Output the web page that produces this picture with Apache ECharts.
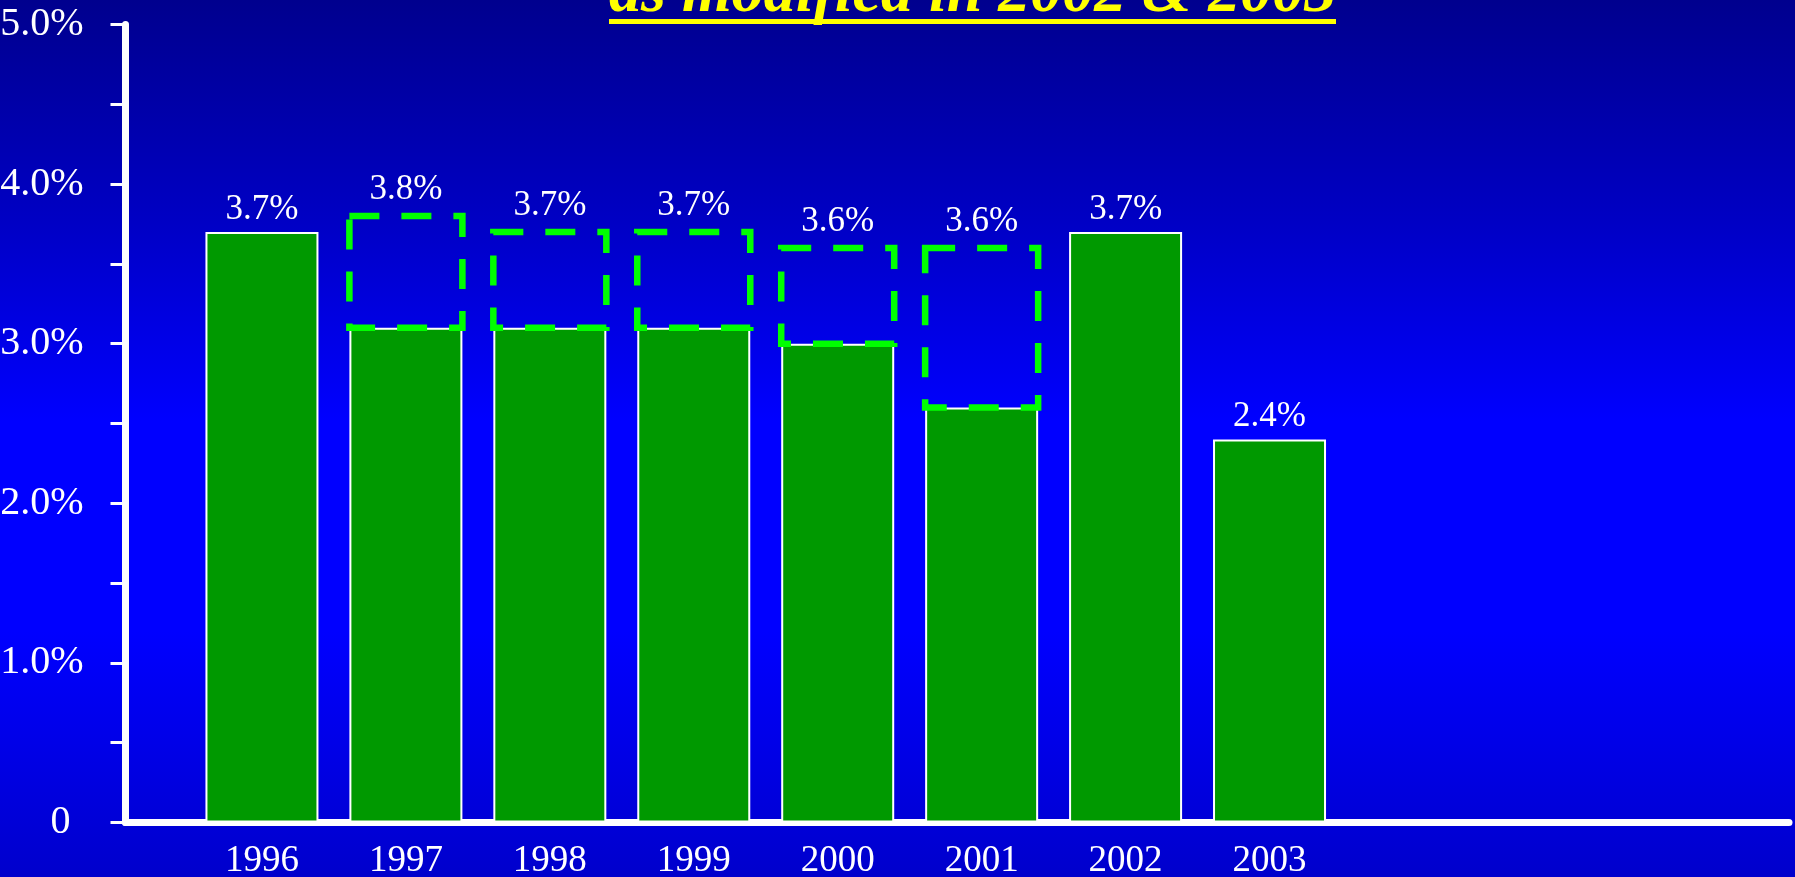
<!DOCTYPE html>
<html>
<head>
<meta charset="utf-8">
<title>Rate chart</title>
<script src="https://cdn.jsdelivr.net/npm/echarts@6/dist/echarts.min.js"></script>
<style>
  html, body { margin: 0; padding: 0; background: #0000cc; }
  #main { width: 1795px; height: 877px; }
</style>
</head>
<body>
<div id="main"></div>
<script>
// years on the x axis
var years = [1996, 1997, 1998, 1999, 2000, 2001, 2002, 2003];
// rate as modified in 2002 & 2003 (green bars)
var modified = [3.7, 3.1, 3.1, 3.1, 3.0, 2.6, 3.7, 2.4];
// rate before the modification (dashed boxes), null where nothing changed
var original = [null, 3.8, 3.7, 3.7, 3.6, 3.6, null, null];
// labelled y ticks
var yTicks = [0, 1, 2, 3, 4, 5];

var titleText = 'as modified in 2002 & 2003';
var serif = '"Liberation Serif", "Times New Roman", serif';
var BAR_W = 113;

var chartDom = document.getElementById('main');
var myChart = echarts.init(chartDom, null, { renderer: 'canvas' });

var baseData = years.map(function (y, i) { return [y, modified[i]]; });
var boxData = [];
years.forEach(function (y, i) {
  if (original[i] != null) boxData.push([y, modified[i], original[i]]);
});

// dashed outline from the modified value up to the original value
function renderBox(params, api) {
  var top = api.coord([api.value(0), api.value(2)]);
  var bot = api.coord([api.value(0), api.value(1)]);
  return {
    type: 'group',
    children: [
      {
        type: 'rect',
        shape: { x: top[0] - BAR_W / 2, y: top[1], width: BAR_W, height: bot[1] - top[1] },
        style: { fill: null, stroke: '#00ff00', lineWidth: 6.5, lineDash: [30, 22] }
      },
      {
        type: 'text',
        style: {
          text: api.value(2).toFixed(1) + '%',
          x: top[0],
          y: top[1] - 9,
          align: 'center',
          verticalAlign: 'bottom',
          fill: '#ffffff',
          font: '35px ' + serif
        }
      }
    ]
  };
}

var option = {
  animation: false,
  backgroundColor: {
    type: 'linear', x: 0, y: 0, x2: 0, y2: 1,
    colorStops: [
      { offset: 0, color: '#00008e' },
      { offset: 0.25, color: '#0000c4' },
      { offset: 0.48, color: '#0000ff' },
      { offset: 0.72, color: '#0000ff' },
      { offset: 1, color: '#0000cc' }
    ]
  },
  graphic: [
    {
      type: 'text',
      style: {
        text: titleText,
        x: 609,
        y: -6,
        verticalAlign: 'middle',
        fill: '#ffff00',
        font: 'italic bold 64px ' + serif
      }
    },
    {
      type: 'rect',
      shape: { x: 609, y: 19, width: 727, height: 5 },
      style: { fill: '#ffff00' }
    }
  ],
  grid: {
    left: 125.5,
    right: 6,
    top: 24.5,
    bottom: 54.5,
    containLabel: false,
    outerBoundsMode: 'none'
  },
  xAxis: {
    type: 'value',
    min: 1995.052,
    max: 2006.609,
    splitLine: { show: false },
    axisTick: { show: false },
    axisLine: { onZero: false, lineStyle: { color: '#ffffff', width: 7 } },
    axisLabel: {
      customValues: years,
      margin: 20,
      color: '#ffffff',
      fontFamily: serif,
      fontSize: 37,
      formatter: function (v) { return String(v); }
    }
  },
  yAxis: {
    type: 'value',
    min: 0,
    max: 5,
    interval: 0.5,
    splitLine: { show: false },
    axisLine: { show: true, lineStyle: { color: '#ffffff', width: 7 } },
    axisTick: { show: true, length: 15, lineStyle: { color: '#ffffff', width: 3 } },
    axisLabel: {
      customValues: yTicks,
      margin: 42,
      color: '#ffffff',
      fontFamily: serif,
      fontSize: 40,
      formatter: function (v) {
        return v === 0 ? '{z|0}' : v.toFixed(1) + '%';
      },
      rich: {
        z: { color: '#ffffff', fontFamily: serif, fontSize: 40, padding: [0, 13, 0, 0] }
      }
    }
  },
  series: [
    {
      name: 'modified',
      type: 'bar',
      barWidth: BAR_W,
      data: baseData,
      itemStyle: { color: '#009900', borderColor: '#ffffff', borderWidth: 2 },
      label: {
        show: true,
        position: 'top',
        distance: 5,
        color: '#ffffff',
        fontFamily: serif,
        fontSize: 35,
        formatter: function (p) {
          return original[p.dataIndex] == null ? modified[p.dataIndex].toFixed(1) + '%' : '';
        }
      }
    },
    {
      name: 'original',
      type: 'custom',
      renderItem: renderBox,
      encode: { x: 0, y: [1, 2] },
      data: boxData,
      z: 3
    }
  ]
};

myChart.setOption(option);
</script>
</body>
</html>
